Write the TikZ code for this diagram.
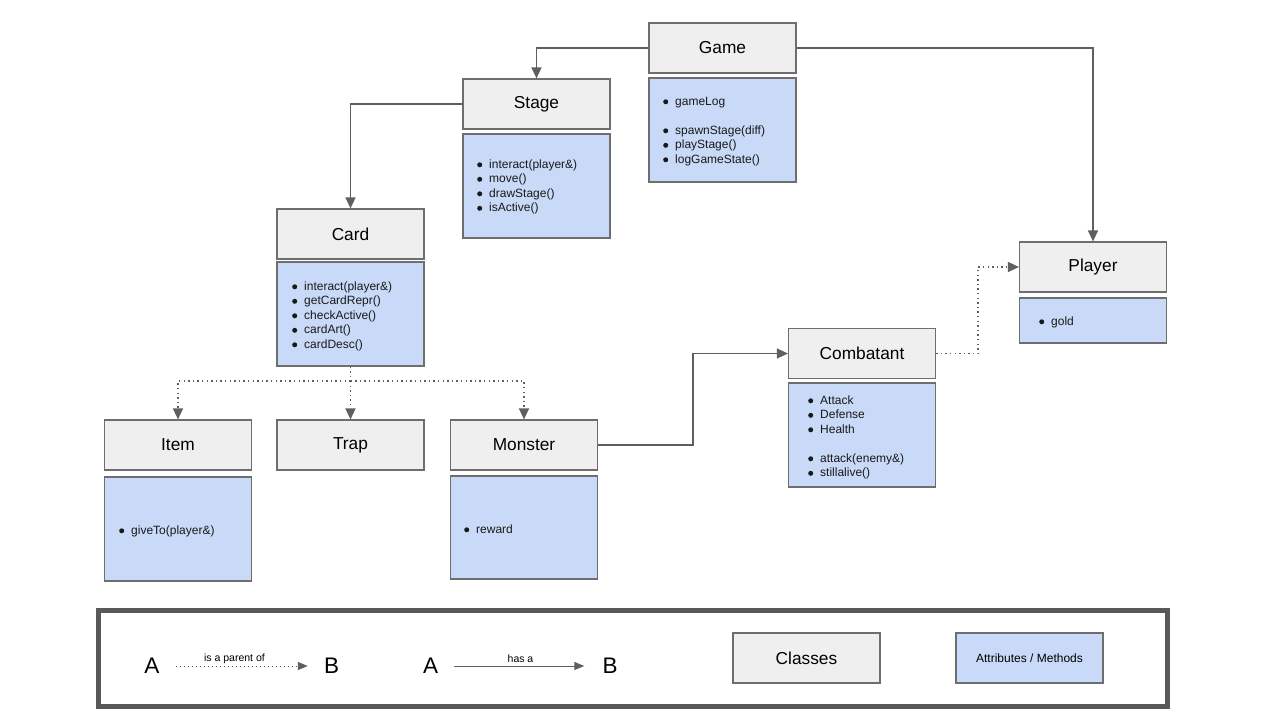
\documentclass[tikz,border=0pt]{standalone}
\usepackage{fontspec}
\setmainfont{Liberation Sans}
\usetikzlibrary{arrows.meta}
\definecolor{clsfill}{HTML}{EFEFEF}
\definecolor{attrfill}{HTML}{C9DAF8}
\definecolor{boxedge}{HTML}{6E6E6E}
\definecolor{arrcol}{HTML}{5F5F5F}
\definecolor{framecol}{HTML}{595959}
\newcommand{\bl}{\makebox[12pt][l]{\tikz[baseline=0pt,x=1pt,y=1pt]\fill[black!90] (2.5,3.4) circle[radius=2.5pt];}}
\begin{document}
\begin{tikzpicture}[x=1pt,y=-1pt,
  cls/.style={draw=boxedge, line width=1.2pt, fill=clsfill, minimum width=147pt, minimum height=50pt, inner sep=0pt, font=\fontsize{17.3}{20}\selectfont},
  attr/.style={draw=boxedge, line width=1.2pt, fill=attrfill, minimum width=147pt, inner sep=0pt},
  lst/.style={anchor=north west, inner sep=0pt, align=left, text=black!90, font=\fontsize{12}{14.5}\selectfont},
  hasa/.style={draw=arrcol, line width=1.4pt, -{Triangle[length=11pt,width=10pt]}},
  parentof/.style={draw=arrcol, line width=1.4pt, dash pattern=on 1.4pt off 3.2pt, -{Triangle[length=11pt,width=10pt]}},
  parentline/.style={draw=arrcol, line width=1.4pt, dash pattern=on 1.4pt off 3.2pt},
  big/.style={inner sep=0pt, font=\fontsize{22.5}{24}\selectfont},
  lbl/.style={inner sep=0pt, font=\fontsize{10.5}{12}\selectfont}]
\fill[white] (0,0) rectangle (1265,709);

% class boxes
\node[cls] (game) at (722.5,48) {Game};
\node[attr, minimum height=104pt] (gameA) at (722.5,130) {};
\node[lst] (gameL) at (663,95) {\rule{0pt}{10pt}\bl gameLog\\[14.5pt]\bl spawnStage(diff)\\\bl playStage()\\\bl logGameState()};

\node[cls] (stage) at (536.5,104) {Stage};
\node[attr, minimum height=104pt] (stageA) at (536.5,186) {};
\node[lst] (stageL) at (477,158) {\rule{0pt}{10pt}\bl interact(player\&)\\\bl move()\\\bl drawStage()\\\bl isActive()};

\node[cls] (card) at (350.5,234) {Card};
\node[attr, minimum height=104pt] (cardA) at (350.5,314) {};
\node[lst] (cardL) at (292,280) {\rule{0pt}{10pt}\bl interact(player\&)\\\bl getCardRepr()\\\bl checkActive()\\\bl cardArt()\\\bl cardDesc()};

\node[cls] (item) at (178,445) {Item};
\node[attr, minimum height=104pt] (itemA) at (178,529) {};
\node[lst] (itemL) at (119,524) {\rule{0pt}{10pt}\bl giveTo(player\&)};

\node[cls] (trap) at (350.5,445) {Trap};

\node[cls] (monster) at (524,445) {Monster};
\node[attr, minimum height=103pt] (monsterA) at (524,527.5) {};
\node[lst] (monsterL) at (464,523) {\rule{0pt}{10pt}\bl reward};

\node[cls] (combatant) at (862,353.5) {Combatant};
\node[attr, minimum height=104pt] (combatantA) at (862,435) {};
\node[lst] (combatantL) at (808,394) {\rule{0pt}{10pt}\bl Attack\\\bl Defense\\\bl Health\\[14.5pt]\bl attack(enemy\&)\\\bl stillalive()};

\node[cls] (player) at (1093,267) {Player};
\node[attr, minimum height=45pt] (playerA) at (1093,320.5) {};
\node[lst] (playerL) at (1039,315) {\rule{0pt}{10pt}\bl gold};

% connectors
\draw[hasa] (game.west) -| (stage.north);
\draw[hasa] (game.east) -| (player.north);
\draw[hasa] (stage.west) -| (card.north);
\coordinate (split) at (350.5,381);
\draw[parentline] (cardA.south) -- (split);
\draw[parentof] (split) -| (item.north);
\draw[parentof] (split) -- (trap.north);
\draw[parentof] (split) -| (monster.north);
\draw[hasa] (monster.east) -- ++(95,0) |- (combatant.west);
\draw[parentof] (combatant.east) -- ++(42,0) |- (player.west);

% legend
\node[draw=framecol, line width=5pt, minimum width=1069pt, minimum height=95.5pt, inner sep=0pt] (legend) at (632.5,658.25) {};
\node[big] (la1) at (152,666) {A};
\node[big] (lb1) at (331.5,666) {B};
\node[big] (la2) at (430.5,666) {A};
\node[big] (lb2) at (610,666) {B};
\draw[draw=arrcol, line width=1pt, dash pattern=on 1pt off 3pt, -{Triangle[length=10pt,width=8pt]}, shorten <=16pt, shorten >=16pt] (la1.east) -- (lb1.west);
\draw[draw=arrcol, line width=1pt, -{Triangle[length=10pt,width=8pt]}, shorten <=16pt, shorten >=18pt] (la2.east) -- (lb2.west);
\node[lbl] (lp) at (234.5,659) {is a parent of};
\node[lbl] (lh) at (520.5,659) {has a};
\node[cls] (lcls) at (806.5,658) {Classes};
\node[attr, minimum height=50pt, font=\fontsize{12}{14}\selectfont] (lattr) at (1029.5,658) {Attributes / Methods};
\end{tikzpicture}
\end{document}
